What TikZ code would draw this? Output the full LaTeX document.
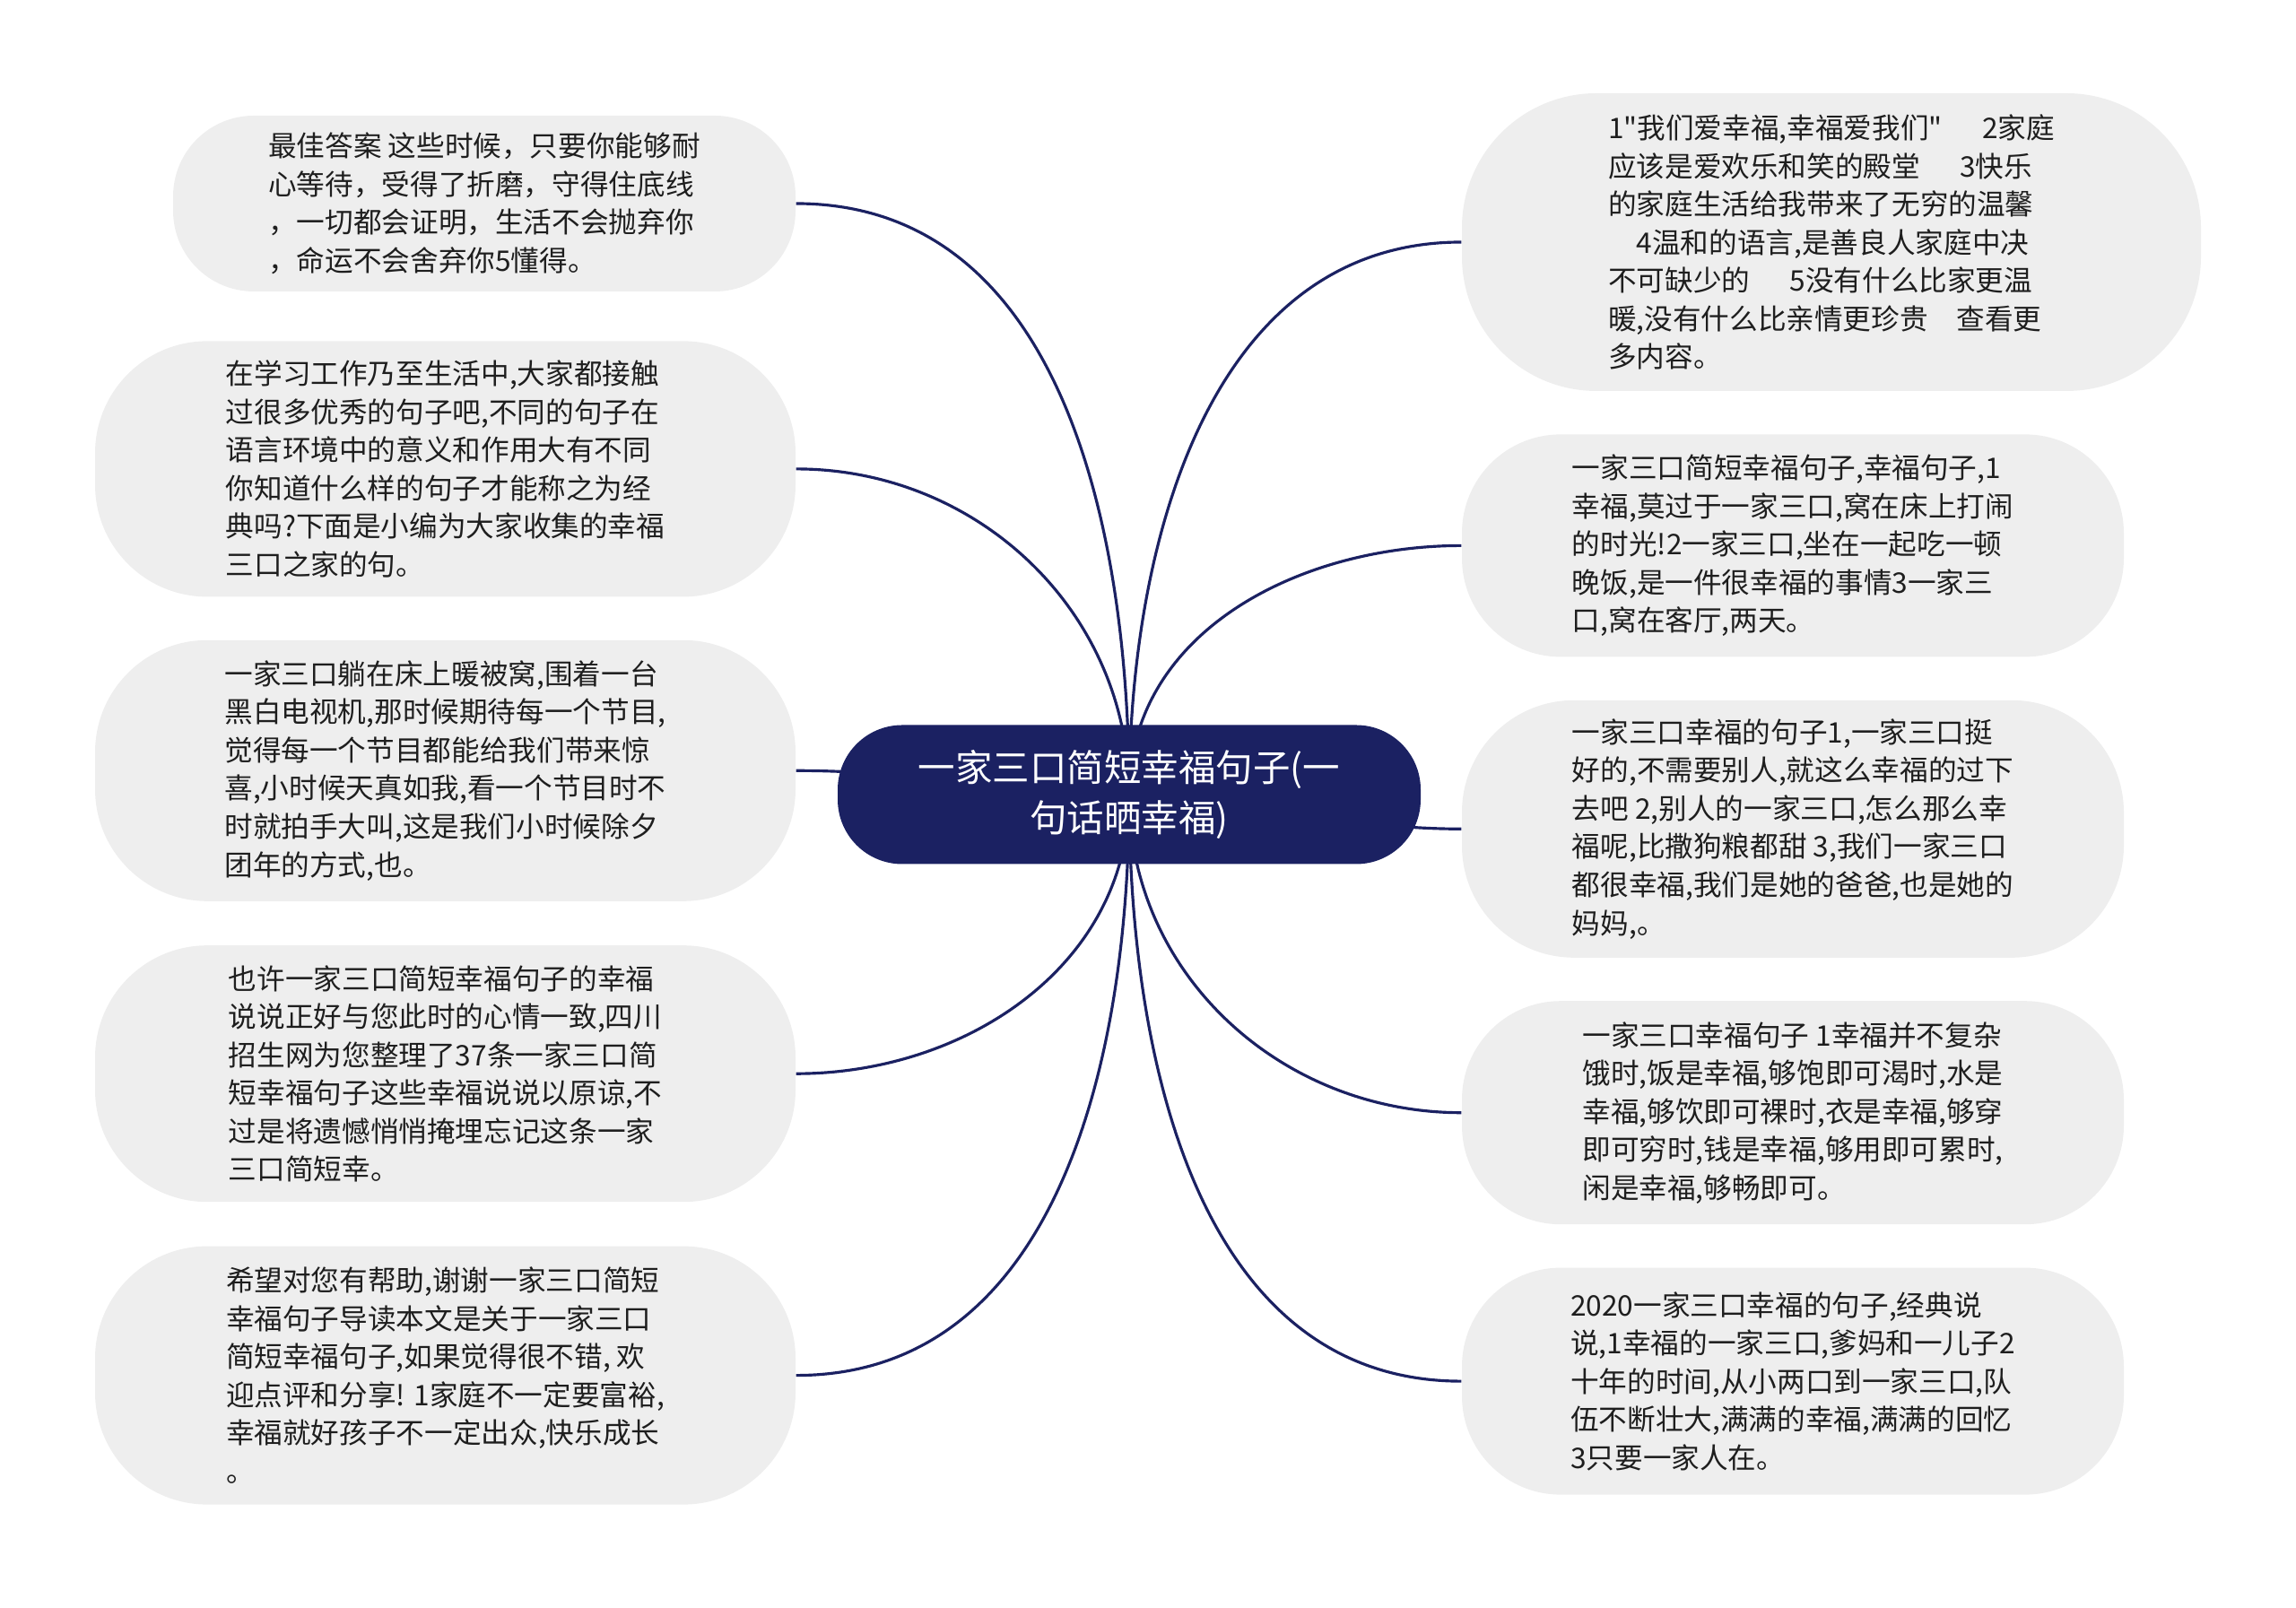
\documentclass[tikz,border=0pt]{standalone}
\usepackage{fontspec}
\usetikzlibrary{positioning,backgrounds}
\newfontfamily\cjk{Noto Sans CJK SC}
\definecolor{MapNavy}{HTML}{1B2162}
\definecolor{LeafGray}{HTML}{EEEEEE}
\definecolor{LeafText}{HTML}{1E1E1E}

\begin{document}
\begin{tikzpicture}[
      node distance=0.47cm,
      root/.style={
        rounded corners=0.72cm, fill=MapNavy, text=white,
        minimum width=6.5cm, minimum height=1.55cm, align=center,
        font=\cjk\fontsize{11.8}{16.2}\selectfont, inner sep=0pt
      },
      leaf/.style={
        rounded corners=1.1cm, fill=LeafGray, text=LeafText,
        minimum width=7.38cm, align=left,
        font=\cjk\fontsize{9}{12.1}\selectfont, inner sep=0pt
      },
      link/.style={MapNavy, line width=0.9pt}
    ]
      \useasboundingbox (0,0) rectangle (25.6,17.93);
      \node[root] (root) at (12.59,9.07) {一家三口简短幸福句子(一\\句话晒幸福)};

      \node[leaf, minimum width=6.94cm, minimum height=1.96cm, rounded corners=0.9cm] (l1) at (5.40,15.66)
        {最佳答案 这些时候，只要你能够耐\\心等待，受得了折磨，守得住底线\\，一切都会证明，生活不会抛弃你\\，命运不会舍弃你5懂得。};
      \node[leaf, minimum width=7.81cm, minimum height=2.85cm, rounded corners=1.25cm,
        below=0.54cm of l1.south east, anchor=north east] (l2)
        {在学习工作乃至生活中,大家都接触\\过很多优秀的句子吧,不同的句子在\\语言环境中的意义和作用大有不同\\你知道什么样的句子才能称之为经\\典吗?下面是小编为大家收集的幸福\\三口之家的句。};
      \node[leaf, minimum width=7.81cm, minimum height=2.91cm, rounded corners=1.25cm, below=of l2] (l3)
        {一家三口躺在床上暖被窝,围着一台\\黑白电视机,那时候期待每一个节目,\\觉得每一个节目都能给我们带来惊\\喜,小时候天真如我,看一个节目时不\\时就拍手大叫,这是我们小时候除夕\\团年的方式,也。};
      \node[leaf, minimum width=7.81cm, minimum height=2.86cm, rounded corners=1.25cm, below=0.48cm of l3] (l4)
        {也许一家三口简短幸福句子的幸福\\说说正好与您此时的心情一致,四川\\招生网为您整理了37条一家三口简\\短幸福句子这些幸福说说以原谅,不\\过是将遗憾悄悄掩埋忘记这条一家\\三口简短幸。};
      \node[leaf, minimum width=7.81cm, minimum height=2.88cm, rounded corners=1.25cm, below=0.48cm of l4] (l5)
        {希望对您有帮助,谢谢一家三口简短\\幸福句子导读本文是关于一家三口\\简短幸福句子,如果觉得很不错, 欢\\迎点评和分享! 1家庭不一定要富裕,\\幸福就好孩子不一定出众,快乐成长\\。};

      \node[leaf, minimum width=8.24cm, minimum height=3.32cm, rounded corners=1.5cm] (r1) at (20.42,15.23)
        {1"我们爱幸福,幸福爱我们"\hspace{1.4em}2家庭\\应该是爱欢乐和笑的殿堂\hspace{1.4em}3快乐\\的家庭生活给我带来了无穷的温馨\\ \hspace*{1em}4温和的语言,是善良人家庭中决\\不可缺少的\hspace{1.4em}5没有什么比家更温\\暖,没有什么比亲情更珍贵\hspace{1em}查看更\\多内容。};
      \node[leaf, minimum height=2.48cm, below=of r1.south west, anchor=north west] (r2)
        {一家三口简短幸福句子,幸福句子,1\\幸福,莫过于一家三口,窝在床上打闹\\的时光!2一家三口,坐在一起吃一顿\\晚饭,是一件很幸福的事情3一家三\\口,窝在客厅,两天。};
      \node[leaf, minimum height=2.87cm, rounded corners=1.25cm, below=of r2] (r3)
        {一家三口幸福的句子1,一家三口挺\\好的,不需要别人,就这么幸福的过下\\去吧 2,别人的一家三口,怎么那么幸\\福呢,比撒狗粮都甜 3,我们一家三口\\都很幸福,我们是她的爸爸,也是她的\\妈妈,。};
      \node[leaf, minimum height=2.49cm, below=of r3] (r4)
        {一家三口幸福句子 1幸福并不复杂\\饿时,饭是幸福,够饱即可渴时,水是\\幸福,够饮即可裸时,衣是幸福,够穿\\即可穷时,钱是幸福,够用即可累时,\\闲是幸福,够畅即可。};
      \node[leaf, minimum height=2.53cm, below=of r4] (r5)
        {2020一家三口幸福的句子,经典说\\说,1幸福的一家三口,爹妈和一儿子2\\十年的时间,从小两口到一家三口,队\\伍不断壮大,满满的幸福,满满的回忆\\3只要一家人在。};

      \begin{scope}[on background layer]
        \foreach \n in {l1,l2} \draw[link] (root.center) to[out=90,in=0] (\n.east);
        \draw[link] (root.center) to[out=180,in=0] (l3.east);
        \foreach \n in {l4,l5} \draw[link] (root.center) to[out=-90,in=0] (\n.east);
        \foreach \n in {r1,r2} \draw[link] (root.center) to[out=90,in=180] (\n.west);
        \draw[link] (root.center) to[out=0,in=180] (r3.west);
        \foreach \n in {r4,r5} \draw[link] (root.center) to[out=-90,in=180] (\n.west);
      \end{scope}
    \end{tikzpicture}
\end{document}
